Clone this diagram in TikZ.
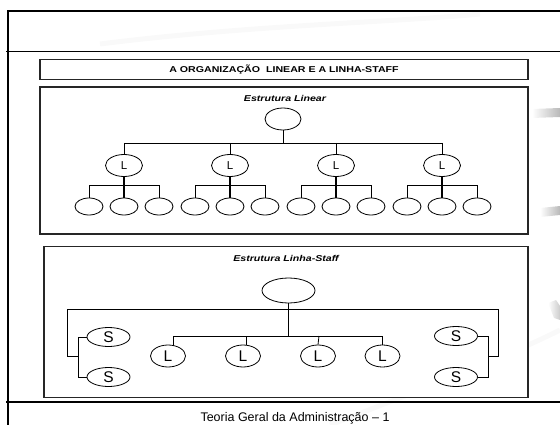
\documentclass[tikz,border=0pt]{standalone}
\usepackage{fontspec}
\setmainfont{Liberation Sans}
\usetikzlibrary{shapes.geometric}
\tikzset{
  frameline/.style={line width=2pt, black},
  boxframe/.style={draw=black!85, line width=1.4pt, fill=white, inner sep=0pt},
  conn/.style={line width=0.8pt, black},
  bigconn/.style={line width=1.3pt, black},
  oval/.style={ellipse, draw, line width=0.8pt, inner sep=0pt, fill=white},
  topoval/.style={oval, minimum width=36pt, minimum height=22pt},
  loval/.style={oval, minimum width=37pt, minimum height=22pt, font=\fontsize{11.5}{11.5}\selectfont},
  smalloval/.style={oval, minimum width=28pt, minimum height=17pt},
  stopoval/.style={oval, minimum width=53pt, minimum height=25pt},
  sloval/.style={oval, minimum width=35pt, minimum height=22pt, font=\fontsize{15.5}{15.5}\selectfont},
  soval/.style={oval, minimum width=43pt, minimum height=19pt, font=\fontsize{15.5}{15.5}\selectfont},
  caption/.style={inner sep=0pt, font=\bfseries\itshape\fontsize{8.5}{9}\selectfont},
}
\begin{document}
\begin{tikzpicture}[x=1pt,y=-1pt]
\useasboundingbox (0,0) rectangle (560,425);
% faint background swooshes
\shade[left color=white, right color=gray!55] (532,109) -- (560,108) -- (560,117) -- (532,118) -- cycle;
\shade[left color=white, right color=gray!55] (540,208) -- (560,206) -- (560,215) -- (540,217) -- cycle;
\shade[left color=white, right color=gray!40] (548,303) -- (556,300) -- (560,306) -- (560,320) -- (554,318) -- cycle;
\draw[gray!5, line width=5pt] (100,44) .. controls (250,25) and (400,22) .. (480,14);
\draw[gray!5, line width=5pt] (330,425) .. controls (420,390) and (500,360) .. (560,330);
% slide frame
\draw[frameline] (7.5,425) -- (7.5,11) -- (560,11);
\draw[line width=0.8pt] (6,51.7) -- (560,51.7);
\draw[frameline] (6,402) -- (560,402);
% title
\node[boxframe, minimum width=488pt, minimum height=20.5pt, font=\bfseries\fontsize{8.5}{9}\selectfont] (title) at (284,69.5)
  {\scalebox{1.25}[1]{A ORGANIZAÇÃO\ \ LINEAR E A LINHA-STAFF}};
% linear box
\node[boxframe, minimum width=488pt, minimum height=147pt] (linbox) at (284,160.5) {};
\node[caption] (lincap) at (285,98) {\scalebox{1.25}[1]{Estrutura Linear}};
\node[topoval] (ltop) at (283,119) {};
\coordinate (lbar) at (283,143);
\draw[conn] (ltop.south) -- (lbar);
\draw[conn] (124,143) -- (442,143);
\foreach \i/\x in {1/124,2/230,3/336,4/442}{
  \node[loval] (L\i) at (\x,165.5) {L};
  \draw[conn] (\x,143) -- (L\i.north);
  \node[smalloval] (a\i) at (\x-35,206.5) {};
  \node[smalloval] (b\i) at (\x,206.5) {};
  \node[smalloval] (c\i) at (\x+35,206.5) {};
  \draw[bigconn] (L\i.south) -- (b\i.north);
  \draw[conn] (a\i.north) |- (\x,185.5) -| (c\i.north);
}
% staff box
\node[boxframe, minimum width=484pt, minimum height=150.5pt] (stbox) at (286,322) {};
\node[caption] (stcap) at (286,258) {\scalebox{1.25}[1]{Estrutura Linha-Staff}};
\node[stopoval] (stop) at (288.5,290.5) {};
\coordinate (sbar) at (288.5,336);
\draw[bigconn] (stop.south) -- (sbar);
\draw[conn] (67,309) -- (498,309);
\draw[conn] (173,336) -- (382,336);
\node[sloval] (SL1) at (168,356) {L};
\node[sloval] (SL2) at (243,356) {L};
\node[sloval] (SL3) at (318,356) {L};
\node[sloval] (SL4) at (382.5,356) {L};
\draw[conn] (173,336) -- (173,345.5);
\draw[conn] (246,336) -- (246,345);
\draw[conn] (319,336) -- (SL3.north);
\draw[conn] (382.5,336) -- (SL4.north);
% staff left
\node[soval] (S1) at (108.5,337) {S};
\node[soval] (S2) at (108.5,377) {S};
\draw[conn] (67,309) -- (67,356.5) -- (78,356.5);
\draw[conn] (S1.west) -- (78,337) -- (78,377) -- (S2.west);
% staff right
\node[soval] (S3) at (456,336) {S};
\node[soval] (S4) at (456,377) {S};
\draw[conn] (S3.east) -- (488,336) -- (488,377) -- (S4.east);
\draw[conn] (488,356.5) -- (498,356.5) -- (498,309);
% footer
\node[anchor=base, inner sep=0pt, font=\fontsize{12.5}{13}\selectfont] (footer) at (295,421.8) {Teoria Geral da Administração – 1};
\end{tikzpicture}
\end{document}
